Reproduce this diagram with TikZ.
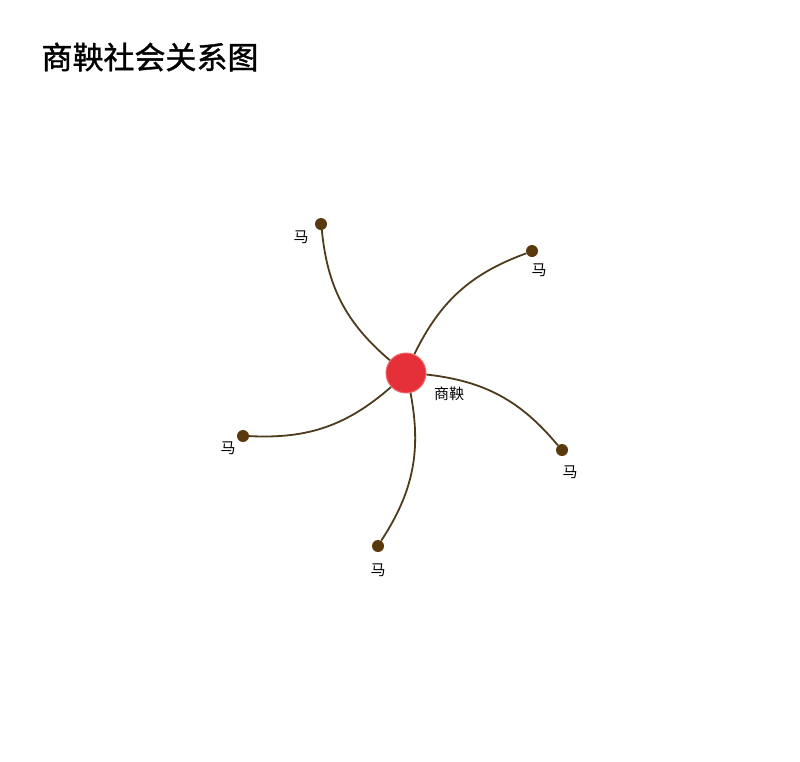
\documentclass[tikz,border=0pt]{standalone}
\usepackage{fontspec}
\setmainfont{Noto Sans CJK SC}
\newfontfamily\titlefont{Noto Sans CJK SC}[FakeBold=1.2]
\definecolor{hubred}{HTML}{E5303A}
\definecolor{hubrim}{HTML}{EE6A6E}
\definecolor{leafbrown}{HTML}{5A3A0C}
\definecolor{tiebrown}{HTML}{4E3B1C}

\begin{document}
\begin{tikzpicture}[x=1pt,y=-1pt,
	hub/.style={circle,fill=hubred,draw=hubrim,line width=1pt,minimum size=40pt,inner sep=0pt},
	leaf/.style={circle,fill=leafbrown,minimum size=12pt,inner sep=0pt},
	tie/.style={draw=tiebrown,line width=1.8pt},
	tagtext/.style={font=\fontsize{15}{15}\selectfont,inner sep=0pt}]
	\useasboundingbox (0,0) rectangle (800,761);
	\node (title) at (150,57) [font=\fontsize{31}{31}\titlefont] {商鞅社会关系图};
	\node (shangyang) at (406,373) [hub] {};
	\node (shangyanglabel) at (449,394) [tagtext] {商鞅};
	\foreach \n/\x/\y/\lx/\ly in {a/321/224/301/237, b/532/251/539/270, c/562/450/570/472, d/378/546/378/570, e/243/436/228/448}
	{
		\node (ma\n) at (\x,\y) [leaf] {};
		\node (ma\n label) at (\lx,\ly) [tagtext] {马};
		\draw [tie] (shangyang) to [bend left=22] (ma\n);
	}
\end{tikzpicture}
\end{document}
